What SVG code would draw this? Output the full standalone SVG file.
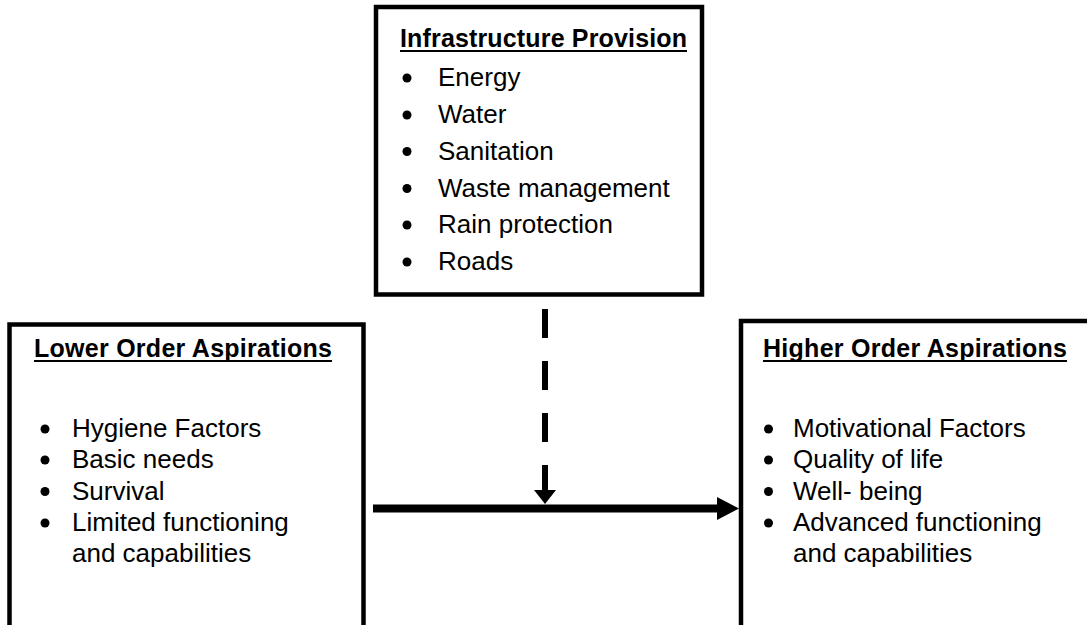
<svg xmlns="http://www.w3.org/2000/svg" width="1087" height="625" viewBox="0 0 1087 625">
  <style>
    .frame { fill: none; stroke: #000; stroke-width: 4.5; stroke-linejoin: miter; }
    .head { font-family: "Liberation Sans", Arial, sans-serif; font-weight: bold; font-size: 25px; fill: #000; }
    .item { font-family: "Liberation Sans", Arial, sans-serif; font-size: 26px; fill: #000; }
    .rule { stroke: #000; stroke-width: 2; }
    .dot { fill: #000; }
    .link { fill: none; stroke: #000; }
  </style>
  <defs>
    <marker id="headSolid" markerUnits="userSpaceOnUse" markerWidth="22" markerHeight="24" refX="0" refY="11.5" orient="auto">
      <path d="M0,0 L22,11.5 L0,23 Z" fill="#000"/>
    </marker>
    <marker id="headDash" markerUnits="userSpaceOnUse" markerWidth="14" markerHeight="22" refX="0" refY="11" orient="auto">
      <path d="M0,0 L14,11 L0,22 Z" fill="#000"/>
    </marker>
  </defs>

  <rect width="1087" height="625" fill="#fff"/>

  <!-- Infrastructure Provision -->
  <g id="infrastructure">
    <rect class="frame" x="376" y="7" width="326" height="287.5"/>
    <text class="head" x="400" y="47" textLength="287">Infrastructure Provision</text>
    <line class="rule" x1="400" y1="51" x2="687" y2="51"/>
    <circle class="dot" cx="407" cy="78" r="4.5"/>
    <text class="item" x="438" y="86">Energy</text>
    <circle class="dot" cx="407" cy="115" r="4.5"/>
    <text class="item" x="438" y="123">Water</text>
    <circle class="dot" cx="407" cy="151.5" r="4.5"/>
    <text class="item" x="438" y="159.5">Sanitation</text>
    <circle class="dot" cx="407" cy="188.5" r="4.5"/>
    <text class="item" x="438" y="196.5">Waste management</text>
    <circle class="dot" cx="407" cy="225" r="4.5"/>
    <text class="item" x="438" y="233">Rain protection</text>
    <circle class="dot" cx="407" cy="262" r="4.5"/>
    <text class="item" x="438" y="270">Roads</text>
  </g>

  <!-- Lower Order Aspirations (frame runs past the bottom edge) -->
  <g id="lower-order">
    <path class="frame" d="M9.5,630 V324.5 H363.5 V630"/>
    <text class="head" x="34" y="357" textLength="298">Lower Order Aspirations</text>
    <line class="rule" x1="34" y1="361" x2="332" y2="361"/>
    <circle class="dot" cx="45" cy="429" r="4.5"/>
    <text class="item" x="72" y="437">Hygiene Factors</text>
    <circle class="dot" cx="45" cy="460" r="4.5"/>
    <text class="item" x="72" y="468">Basic needs</text>
    <circle class="dot" cx="45" cy="491.5" r="4.5"/>
    <text class="item" x="72" y="499.5">Survival</text>
    <circle class="dot" cx="45" cy="523" r="4.5"/>
    <text class="item" x="72" y="531">Limited functioning</text>
    <text class="item" x="72" y="562">and capabilities</text>
  </g>

  <!-- Higher Order Aspirations (frame runs past the right and bottom edges) -->
  <g id="higher-order">
    <path class="frame" d="M741,630 V321 H1095"/>
    <text class="head" x="763" y="357" textLength="304">Higher Order Aspirations</text>
    <line class="rule" x1="763" y1="361" x2="1067" y2="361"/>
    <circle class="dot" cx="768.5" cy="429" r="4.5"/>
    <text class="item" x="793" y="437">Motivational Factors</text>
    <circle class="dot" cx="768.5" cy="460" r="4.5"/>
    <text class="item" x="793" y="468">Quality of life</text>
    <circle class="dot" cx="768.5" cy="491.5" r="4.5"/>
    <text class="item" x="793" y="499.5">Well- being</text>
    <circle class="dot" cx="768.5" cy="523" r="4.5"/>
    <text class="item" x="793" y="531">Advanced functioning</text>
    <text class="item" x="793" y="562">and capabilities</text>
  </g>

  <!-- Connectors -->
  <g id="connectors">
    <line class="link" x1="545" y1="309" x2="545" y2="490" stroke-width="6" stroke-dasharray="29 23" marker-end="url(#headDash)"/>
    <line class="link" x1="373" y1="508.5" x2="717" y2="508.5" stroke-width="8" marker-end="url(#headSolid)"/>
  </g>
</svg>
